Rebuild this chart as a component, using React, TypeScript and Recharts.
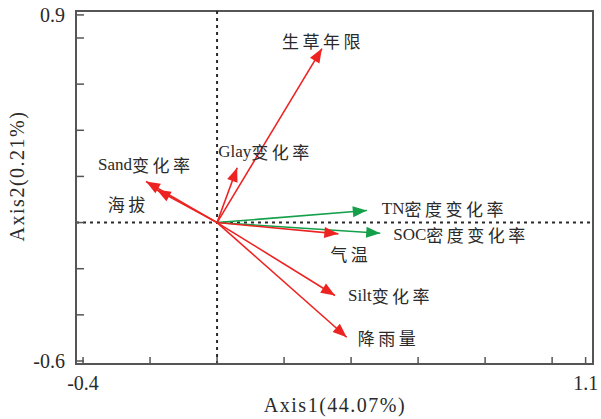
import React from "react";
import {
  LineChart,
  Line,
  XAxis,
  YAxis,
  ReferenceLine,
  ReferenceArea
} from "recharts";

// RDA biplot: explanatory variables (red) and response variables (green)
const names = ["生草年限", "Glay变化率", "Sand变化率", "海拔", "TN密度变化率", "SOC密度变化率", "气温", "Silt变化率", "降雨量"];
const axis1 = [0.313, 0.06, -0.212, -0.18, 0.447, 0.487, 0.362, 0.352, 0.387];
const axis2 = [0.754, 0.238, 0.178, 0.142, 0.052, -0.046, -0.049, -0.316, -0.497];
const isResponse = [false, false, false, false, true, true, false, false, false];

const xTicks = [-0.4, -0.2, 0, 0.2, 0.4, 0.6, 0.8, 1.0, 1.1];
const yTicks = [0.9, 0.8, 0.6, 0.4, 0.2, 0, -0.2, -0.4, -0.6];
const xLabeled = [-0.4, 1.1];
const yLabeled = [0.9, -0.6];

const X_DOMAIN: [number, number] = [-0.421, 1.122];
const Y_DOMAIN: [number, number] = [-0.613, 0.917];

const RED = "#ec2321";
const GREEN = "#14a04a";
const AXIS = "#555";
const TEXT = "#2a2a2a";
const SERIF = "'Liberation Serif', 'Times New Roman', 'Noto Sans CJK SC', serif";

// label offsets from arrow tip, px (left edge / vertical centre)
const labelOffset: Record<string, [number, number]> = {
  "生草年限": [-40, -9],
  "Glay变化率": [-19, -17],
  "Sand变化率": [-48, -18],
  "海拔": [-49, 13],
  "TN密度变化率": [15, -3],
  "SOC密度变化率": [13, 1],
  "气温": [-8, 19],
  "Silt变化率": [13, 0],
  "降雨量": [11, 0]
};

const XTick = (props: any) => {
  const { x, y, payload } = props;
  const v = payload.value;
  return (
    <g>
      <line x1={x} y1={y} x2={x} y2={y - 7} stroke={AXIS} strokeWidth={1.5} />
      {xLabeled.includes(v) && (
        <text x={x} y={y + 19} textAnchor="middle" dominantBaseline="central" fontSize={20} fontFamily={SERIF} fill={TEXT}>
          {v.toFixed(1)}
        </text>
      )}
    </g>
  );
};

const YTick = (props: any) => {
  const { x, y, payload } = props;
  const v = payload.value;
  return (
    <g>
      <line x1={x} y1={y} x2={x + 8} y2={y} stroke={AXIS} strokeWidth={1.5} />
      {yLabeled.includes(v) && (
        <text x={x - 11} y={y} textAnchor="end" dominantBaseline="central" fontSize={20} fontFamily={SERIF} fill={TEXT}>
          {v.toFixed(1)}
        </text>
      )}
    </g>
  );
};

const renderArrow = (props: any) => {
  const { cx, cy, index, points, stroke, payload } = props;
  if (index !== 1 || !points || !points[0]) return <g key={`d-${index}`} />;
  const p0 = points[0];
  const ang = Math.atan2(cy - p0.y, cx - p0.x);
  const c = Math.cos(ang);
  const s = Math.sin(ang);
  const L = 14;
  const W = 5.5;
  const bx = cx - L * c;
  const by = cy - L * s;
  const tri = `${cx},${cy} ${bx - W * s},${by + W * c} ${bx + W * s},${by - W * c}`;
  const name: string = payload.name;
  const m = name.match(/^([A-Za-z]*)(.*)$/) || ["", "", name];
  const [dx, dy] = labelOffset[name] || [8, 0];
  return (
    <g key={`d-${index}`}>
      <polygon points={tri} fill={stroke} />
      <text x={cx + dx} y={cy + dy} dominantBaseline="central" fontSize={17} fill={TEXT} fontFamily={SERIF}>
        {m[1] && <tspan>{m[1]}</tspan>}
        <tspan fontFamily="'Noto Sans CJK SC', sans-serif" letterSpacing={3.5}>{m[2]}</tspan>
      </text>
    </g>
  );
};

export default function App() {
  return (
    <div style={{ position: "absolute", left: 0, top: 0, width: 601, height: 419, background: "#fff" }}>
      <LineChart width={601} height={419} margin={{ top: 11, right: 8, left: 0, bottom: 0 }}>
        <XAxis
          type="number"
          dataKey="x"
          domain={X_DOMAIN}
          ticks={xTicks}
          interval={0}
          allowDataOverflow
          height={55}
          axisLine={{ stroke: AXIS, strokeWidth: 2 }}
          tickLine={false}
          tickSize={0}
          tickMargin={0}
          tick={<XTick />}
        />
        <YAxis
          type="number"
          domain={Y_DOMAIN}
          ticks={yTicks}
          interval={0}
          allowDataOverflow
          width={76}
          axisLine={{ stroke: AXIS, strokeWidth: 2 }}
          tickLine={false}
          tickSize={0}
          tickMargin={0}
          tick={<YTick />}
        />
        <ReferenceArea
          x1={X_DOMAIN[0]}
          x2={X_DOMAIN[1]}
          y1={Y_DOMAIN[0]}
          y2={Y_DOMAIN[1]}
          fill="none"
          stroke={AXIS}
          strokeWidth={2}
        />
        <ReferenceLine x={0} stroke={TEXT} strokeWidth={2} strokeDasharray="3 4" />
        <ReferenceLine y={0} stroke={TEXT} strokeWidth={2} strokeDasharray="3 4" />
        {names.map((n, i) => (
          <Line
            key={n}
            data={[
              { x: 0, y: 0, name: n },
              { x: axis1[i], y: axis2[i], name: n }
            ]}
            dataKey="y"
            type="linear"
            stroke={isResponse[i] ? GREEN : RED}
            strokeWidth={1.6}
            dot={renderArrow}
            activeDot={false}
            isAnimationActive={false}
          />
        ))}
        <text x={335} y={405} textAnchor="middle" dominantBaseline="central" fontSize={20} letterSpacing={1.5} fontFamily={SERIF} fill={TEXT}>
          Axis1(44.07%)
        </text>
        <text
          x={17}
          y={176}
          transform="rotate(-90 17 176)"
          textAnchor="middle"
          dominantBaseline="central"
          fontSize={20}
          letterSpacing={1.5}
          fontFamily={SERIF}
          fill={TEXT}
        >
          Axis2(0.21%)
        </text>
      </LineChart>
    </div>
  );
}
